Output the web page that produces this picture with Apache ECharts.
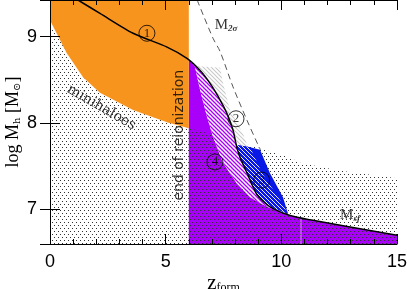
<!DOCTYPE html>
<html><head><meta charset="utf-8">
<script src="https://cdn.jsdelivr.net/npm/echarts@6/dist/echarts.min.js"></script>
<style>html,body{margin:0;padding:0;background:#fff}#c{width:407px;height:289px}</style>
</head><body><div id="c"></div>
<script>
// ---- data ----
const xTicks = [0, 5, 10, 15];
const yTicks = [7, 8, 9];
const zRange = [0, 15];
const mRange = [6.6, 9.425];
const reionZ = 6;
// upper edge of the dotted "minihaloes" region (= lower edge of orange region for z<6)
const minihaloEdge = [[0,9.19],[0.72,8.81],[1.43,8.53],[2.16,8.35],[3.59,8.15],[5.06,8.01],[6,7.94],[7,7.87],[8,7.79],[9.08,7.71],[10.4,7.6],[10.8,7.54],[12.5,7.45],[15,7.36]];
// solid black curve (1 / M_sf)
const msfCurve = [[1.21,9.425],[2.16,9.27],[3.59,9.04],[5.06,8.88],[5.92,8.75],[6.49,8.61],[6.92,8.46],[7.35,8.27],[7.65,8.11],[7.91,7.92],[8.07,7.725],[8.22,7.60],[8.52,7.42],[8.95,7.17],[9.51,7.03],[10.38,6.93],[11.24,6.88],[15,6.70]];
// dashed M_2sigma
const m2sigma = [[6.36,9.425],[7.05,8.98],[7.35,8.83],[7.91,8.42],[8.52,8.03],[8.99,7.75],[9.1,7.69]];
// upper edge of the purple region
const purpleEdge = [[6.0,8.74],[6.27,8.65],[6.49,8.38],[6.79,8.07],[7.05,7.84],[7.48,7.54],[8.08,7.30],[8.65,7.14],[9.38,7.03],[10.38,6.93]];
// outer edge of grey hatched region (2)
const grayEdge = [[6.3,8.66],[7.35,8.64],[7.48,8.46],[7.78,8.15],[8.34,7.88],[8.56,7.72]];
// outer edge of blue region (3) and its hatched inner band
const blueEdge = [[8.07,7.745],[8.52,7.73],[9.08,7.69],[9.51,7.42],[10.07,7.14],[10.29,6.95]];
const blueHatchEdge = [[8.07,7.745],[8.65,7.72],[9.17,7.42],[9.94,7.11],[10.29,6.95]];
const sfMark = [[10.85,6.6],[10.85,6.9]];
const circleLabels = [[4.19,9.04,'1'],[8.04,8.05,'2'],[9.15,7.34,'3'],[7.13,7.55,'4']];
const textAnchors = [[2.22,8.18],[5.58,7.86],[7.61,9.135],[12.97,6.93]];
const textStrings = ['minihaloes','end of reionization','{m|M}{s|2σ}','{m|M}{s|sf}'];

// ---- helpers ----
function seg(a,b){ return msfCurve.filter(p=>p[0]>=a && p[0]<=b); }
function pattern(w,h,draw){
  const c=document.createElement('canvas'); c.width=w; c.height=h;
  const g=c.getContext('2d'); draw(g,w,h); return {image:c, repeat:'repeat'};
}
function hatch(bg,fg,lw,n){
  return pattern(n,n,(g,w,h)=>{
    if(bg){g.fillStyle=bg; g.fillRect(0,0,w,h);}
    g.strokeStyle=fg; g.lineWidth=lw;
    for(const k of [-n,0,n]){ g.beginPath(); g.moveTo(-1,k-1); g.lineTo(n+1,k+n+1); g.stroke(); }
  });
}
const PURPLE='#a800f8', ORANGE='#f7941e', BLUE='#0a18e6';
const dotFill = pattern(4,6,(g)=>{ g.fillStyle='#333'; g.fillRect(0,0,1,1); g.fillRect(2,3,1,1); });
const pinkFill = hatch('#ffffff', PURPLE, 1.3, 4);
const grayFill = hatch('#ffffff', '#c8c8c8', 1.1, 4);
const blueHatchFill = hatch(BLUE, '#ffffff', 0.9, 4);

function poly(name, pts, fill){
  return { type:'custom', name, silent:true, clip:true, data:[[0,0]],
    renderItem:(params, api)=>({ type:'polygon',
      shape:{ points: pts.map(p=>api.coord(p)) },
      style:{ fill, stroke:null } }) };
}

const purplePoly = [[reionZ,mRange[0]], ...purpleEdge, ...seg(10.39,15), [zRange[1],mRange[0]]];
const dotPoly = [[zRange[0],mRange[0]], ...minihaloEdge, [zRange[1],mRange[0]]];
const orangePoly = [[zRange[0],mRange[1]],[reionZ,mRange[1]], ...minihaloEdge.filter(p=>p[0]<=reionZ).reverse()];
const pinkPoly = [...seg(6.0,10.38), ...purpleEdge.slice().reverse()];
const grayPoly = [...grayEdge, ...seg(6.3,8.07).reverse()];
const bluePoly = [...blueEdge, ...seg(8.07,10.29).reverse()];
const blueHatchPoly = [...blueHatchEdge, ...seg(8.07,10.29).reverse()];

const serif='Liberation Serif', sans='Liberation Sans';
const subRich = {
  m:{fontFamily:serif,fontSize:15,color:'#000'},
  s:{fontFamily:serif,fontSize:9,fontStyle:'italic',fontWeight:'bold',color:'#000',verticalAlign:'bottom',padding:[7,0,0,0]}
};
const textStyles = [
  {fontFamily:'DejaVu Serif',fontSize:14,rotate:-30},
  {fontFamily:'DejaVu Sans',fontSize:14,rotate:90},
  {rotate:0,rich:subRich},
  {rotate:0,rich:subRich}
];

const axisCommon = {
  axisLine:{show:true,lineStyle:{color:'#000',width:1}},
  splitLine:{show:false}, z:10
};
const option = {
  animation:false,
  backgroundColor:'#fff',
  grid:{left:50,right:10,top:0,bottom:45,outerBoundsMode:'none',containLabel:false},
  xAxis:[
    Object.assign({type:'value',min:zRange[0],max:zRange[1],interval:5,position:'bottom',
      axisTick:{inside:true,length:10,lineStyle:{color:'#000'}},
      minorTick:{show:true,splitNumber:5,length:5,lineStyle:{color:'#000'}},
      axisLabel:{fontFamily:sans,fontSize:18,color:'#000',margin:9,
        formatter:v=>xTicks.includes(v)?String(v):''},
      name:'{z|z}{f|form}', nameLocation:'middle', nameGap:29, nameMoveOverlap:false,
      nameTextStyle:{rich:{z:{fontFamily:serif,fontSize:21,color:'#000'},
        f:{fontFamily:serif,fontSize:12,color:'#000',verticalAlign:'bottom',padding:[6,0,0,0]}}}
    },axisCommon),
    Object.assign({type:'value',min:zRange[0],max:zRange[1],interval:5,position:'top',
      axisTick:{inside:true,length:10,lineStyle:{color:'#000'}},
      minorTick:{show:true,splitNumber:5,length:5,lineStyle:{color:'#000'}},
      axisLabel:{show:false}},axisCommon)
  ],
  yAxis:[
    Object.assign({type:'value',min:mRange[0],max:mRange[1],splitNumber:3,position:'left',
      axisTick:{inside:true,length:10,lineStyle:{color:'#000'}},
      axisLabel:{fontFamily:sans,fontSize:18,color:'#000',margin:13,
        formatter:v=>yTicks.includes(v)?String(v):''},
      name:'{a|log M}{b|h}{a| [M}{b|⊙}{a|]}', nameLocation:'middle', nameGap:28, nameMoveOverlap:false,
      nameTextStyle:{rich:{a:{fontFamily:serif,fontSize:18,color:'#000'},
        b:{fontFamily:'DejaVu Serif',fontSize:10,color:'#000',verticalAlign:'bottom',padding:[7,0,0,0]}}}
    },axisCommon),
    Object.assign({type:'value',min:mRange[0],max:mRange[1],splitNumber:3,position:'right',
      axisTick:{inside:true,length:10,lineStyle:{color:'#000'}},
      axisLabel:{show:false}},axisCommon)
  ],
  series:[
    poly('purple', purplePoly, PURPLE),
    poly('minihaloes', dotPoly, dotFill),
    poly('orange', orangePoly, ORANGE),
    poly('gray', grayPoly, grayFill),
    poly('pink', pinkPoly, pinkFill),
    {type:'line',name:'M2sigma',data:m2sigma,symbol:'none',smooth:0.3,silent:true,
      lineStyle:{color:'#555',width:1,type:[6,4]}},
    poly('blue', bluePoly, BLUE),
    poly('bluehatch', blueHatchPoly, blueHatchFill),
    {type:'line',name:'sfmark',data:sfMark,symbol:'none',silent:true,
      lineStyle:{color:'rgba(255,255,255,0.55)',width:1}},
    {type:'line',name:'Msf',data:msfCurve,symbol:'none',smooth:0.25,silent:true,
      lineStyle:{color:'#000',width:1.5}},
    {type:'scatter',name:'circles',silent:true,symbol:'circle',symbolSize:16,
      data:circleLabels.map(c=>({value:[c[0],c[1]],label:{formatter:c[2]}})),
      itemStyle:{color:'rgba(0,0,0,0)',borderColor:'#000',borderWidth:1},
      label:{show:true,position:'inside',fontFamily:serif,fontSize:13,color:'#000'}},
    {type:'scatter',name:'texts',silent:true,symbolSize:0,
      data:textAnchors.map((p,i)=>({value:p,label:Object.assign({show:true,position:'inside',
        formatter:textStrings[i],color:'#000'},textStyles[i])}))}
  ]
};
const chart = echarts.init(document.getElementById('c'),null,{renderer:'canvas'});
chart.setOption(option);
</script></body></html>
